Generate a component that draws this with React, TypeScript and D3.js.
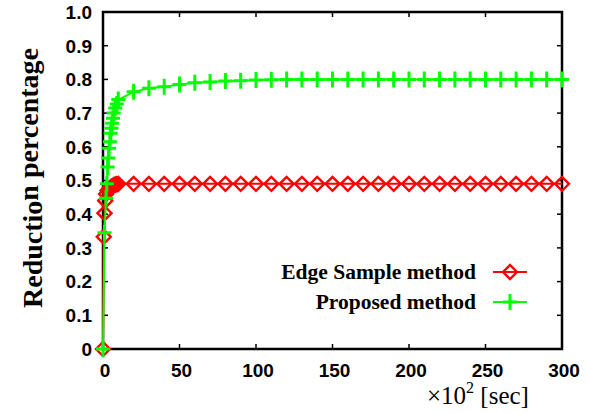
import React from 'react';
import * as d3 from 'd3';

const edgeX = [0, 0.5, 1, 1.5, 2, 3, 4, 5, 6, 7, 8, 9, 10, 20, 30, 40, 50, 60, 70, 80, 90, 100, 110, 120, 130, 140, 150, 160, 170, 180, 190, 200, 210, 220, 230, 240, 250, 260, 270, 280, 290, 300];
const edgeY = [0, 0.333, 0.403, 0.44, 0.46, 0.47, 0.475, 0.48, 0.483, 0.486, 0.488, 0.489, 0.49, 0.49, 0.49, 0.49, 0.49, 0.49, 0.49, 0.49, 0.49, 0.49, 0.49, 0.49, 0.49, 0.49, 0.49, 0.49, 0.49, 0.49, 0.49, 0.49, 0.49, 0.49, 0.49, 0.49, 0.49, 0.49, 0.49, 0.49, 0.49, 0.49];

const propX = [0, 1, 2, 2.5, 3, 3.5, 4, 4.5, 5, 5.5, 6, 6.5, 7, 8, 9, 10, 20, 30, 40, 50, 60, 70, 80, 90, 100, 110, 120, 130, 140, 150, 160, 170, 180, 190, 200, 210, 220, 230, 240, 250, 260, 270, 280, 290, 300];
const propY = [0, 0.345, 0.447, 0.49, 0.54, 0.567, 0.596, 0.615, 0.64, 0.655, 0.67, 0.685, 0.7, 0.715, 0.727, 0.74, 0.763, 0.774, 0.778, 0.785, 0.79, 0.792, 0.795, 0.796, 0.798, 0.799, 0.8, 0.8, 0.8, 0.8, 0.8, 0.8, 0.8, 0.8, 0.8, 0.8, 0.8, 0.8, 0.8, 0.8, 0.8, 0.8, 0.8, 0.8, 0.8];

const xTicks = [0, 50, 100, 150, 200, 250, 300];
const xTickLabels = ['0', '50', '100', '150', '200', '250', '300'];
const yTicks = [0, 0.1, 0.2, 0.3, 0.4, 0.5, 0.6, 0.7, 0.8, 0.9, 1.0];
const yTickLabels = ['0', '0.1', '0.2', '0.3', '0.4', '0.5', '0.6', '0.7', '0.8', '0.9', '1.0'];
const seriesNames = ['Edge Sample method', 'Proposed method'];

const RED = '#ff0000';
const GREEN = '#00ff00';

export default function App() {
  const W = 590, H = 412;
  const L = 103, R = 562, T = 12, B = 349;
  const x = d3.scaleLinear().domain([0, 300]).range([L, R]);
  const y = d3.scaleLinear().domain([0, 1]).range([B, T]);
  const line = d3.line<[number, number]>().x(d => x(d[0])).y(d => y(d[1]));
  const edge: [number, number][] = edgeX.map((v, i) => [v, edgeY[i]]);
  const prop: [number, number][] = propX.map((v, i) => [v, propY[i]]);
  const dm = 7;
  const diamond = (cx: number, cy: number) => `M${cx - dm},${cy}L${cx},${cy - dm}L${cx + dm},${cy}L${cx},${cy + dm}Z`;
  const ph = 7, pv = 8;
  const plus = (cx: number, cy: number) => `M${cx - ph},${cy}H${cx + ph}M${cx},${cy - pv}V${cy + pv}`;
  const tickLen = 5;
  const sans = 'Liberation Sans, Arial, sans-serif';
  const serif = 'Liberation Serif, Times New Roman, serif';
  const legY = [272, 302];
  return (
    <svg width={W} height={H} style={{ position: 'absolute', left: 0, top: 0, background: '#fff' }}>
      <rect x={0} y={0} width={W} height={H} fill="#fff" />
      {yTicks.map((t, i) => (
        <g key={'yt' + i}>
          <line x1={L} x2={L + tickLen} y1={y(t)} y2={y(t)} stroke="#000" strokeWidth={1.5} />
          <line x1={R} x2={R - tickLen} y1={y(t)} y2={y(t)} stroke="#000" strokeWidth={1.5} />
          <text x={92} y={y(t)} dy="0.36em" textAnchor="end" fontFamily={sans} fontWeight="bold" fontSize={19}>{yTickLabels[i]}</text>
        </g>
      ))}
      {xTicks.map((t, i) => (
        <g key={'xt' + i}>
          <line x1={x(t)} x2={x(t)} y1={B} y2={B - tickLen} stroke="#000" strokeWidth={1.5} />
          <line x1={x(t)} x2={x(t)} y1={T} y2={T + tickLen} stroke="#000" strokeWidth={1.5} />
          <text x={x(t) + 2} y={377} textAnchor="middle" fontFamily={sans} fontWeight="bold" fontSize={19}>{xTickLabels[i]}</text>
        </g>
      ))}
      <rect x={L} y={T} width={R - L} height={B - T} fill="none" stroke="#000" strokeWidth={2.5} />
      <path d={line(edge) || ''} fill="none" stroke={RED} strokeWidth={2} />
      {edge.map((d, i) => (
        <path key={'e' + i} d={diamond(x(d[0]), y(d[1]))} fill="none" stroke={RED} strokeWidth={2.4} />
      ))}
      <path d={line(prop) || ''} fill="none" stroke={GREEN} strokeWidth={2} />
      {prop.map((d, i) => (
        <path key={'p' + i} d={plus(x(d[0]), y(d[1]))} fill="none" stroke={GREEN} strokeWidth={3} />
      ))}
      <text x={476} y={legY[0]} dy="0.33em" textAnchor="end" fontFamily={serif} fontWeight="bold" fontSize={21.5}>{seriesNames[0]}</text>
      <line x1={493} x2={527} y1={legY[0]} y2={legY[0]} stroke={RED} strokeWidth={2} />
      <path d={diamond(510, legY[0])} fill="none" stroke={RED} strokeWidth={2.4} />
      <text x={476} y={legY[1]} dy="0.33em" textAnchor="end" fontFamily={serif} fontWeight="bold" fontSize={21.5}>{seriesNames[1]}</text>
      <line x1={493} x2={527} y1={legY[1]} y2={legY[1]} stroke={GREEN} strokeWidth={2} />
      <path d={plus(510, legY[1])} fill="none" stroke={GREEN} strokeWidth={3} />
      <text transform={`translate(42,178) rotate(-90)`} textAnchor="middle" fontFamily={serif} fontWeight="bold" fontSize={28}>
        <tspan>Reductio</tspan><tspan dy={-4}>n percentage</tspan>
      </text>
      <text x={427} y={404} fontFamily={serif} fontSize={25}>
        <tspan>×10</tspan><tspan dy={-11} fontSize={16}>2</tspan><tspan dy={11}> [sec]</tspan>
      </text>
    </svg>
  );
}
